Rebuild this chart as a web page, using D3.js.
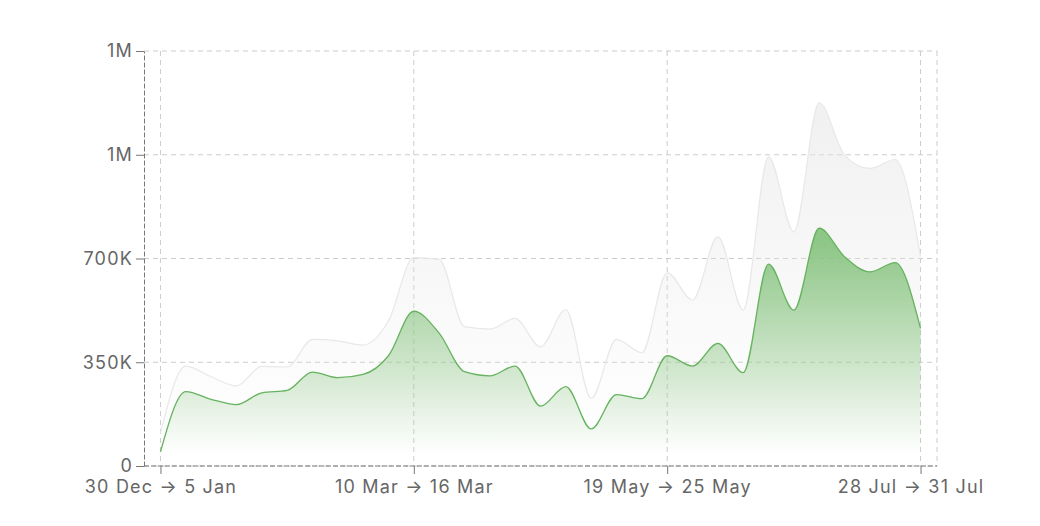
<!DOCTYPE html>
<html>
<head>
<meta charset="utf-8">
<script src="https://cdnjs.cloudflare.com/ajax/libs/d3/7.8.5/d3.min.js"></script>
<style>
  body { margin: 0; background: #fff; }
  svg text { font-family: Inter, "Noto Sans", sans-serif; }
</style>
</head>
<body>
<svg id="chart"></svg>
<script>
const svgWidth = 1040;
const svgHeight = 526;
const margin = {top: 51, right: 103, bottom: 60, left: 144};

// weekly buckets
const weeks = [
  "30 Dec → 5 Jan", "6 Jan → 12 Jan", "13 Jan → 19 Jan", "20 Jan → 26 Jan", "27 Jan → 2 Feb",
  "3 Feb → 9 Feb", "10 Feb → 16 Feb", "17 Feb → 23 Feb", "24 Feb → 2 Mar", "3 Mar → 9 Mar",
  "10 Mar → 16 Mar", "17 Mar → 23 Mar", "24 Mar → 30 Mar", "31 Mar → 6 Apr", "7 Apr → 13 Apr",
  "14 Apr → 20 Apr", "21 Apr → 27 Apr", "28 Apr → 4 May", "5 May → 11 May", "12 May → 18 May",
  "19 May → 25 May", "26 May → 1 Jun", "2 Jun → 8 Jun", "9 Jun → 15 Jun", "16 Jun → 22 Jun",
  "23 Jun → 29 Jun", "30 Jun → 6 Jul", "7 Jul → 13 Jul", "14 Jul → 20 Jul", "21 Jul → 27 Jul",
  "28 Jul → 31 Jul"
];
const totalValues = [
  111000, 337000, 301000, 270000, 336000, 334000, 427000, 422000, 408000, 490000,
  703000, 697000, 470000, 462000, 498000, 402000, 528000, 228000, 427000, 382000,
  652000, 560000, 774000, 526000, 1043000, 790000, 1225000, 1049000, 1004000, 1034000,
  706000
];
const greenValues = [
  48000, 251000, 225000, 207000, 247000, 255000, 317000, 298000, 309000, 372000,
  522000, 448000, 318000, 304000, 337000, 202000, 268000, 125000, 241000, 227000,
  372000, 337000, 414000, 315000, 681000, 526000, 802000, 706000, 655000, 686000,
  464000
];
const yTicks = [0, 350000, 700000, 1050000, 1400000];
const yTickLabels = ["0", "350K", "700K", "1M", "1M"];
const xTickIndex = [0, 10, 20, 30];

const svg = d3.select("#chart")
  .attr("width", svgWidth)
  .attr("height", svgHeight);

const defs = svg.append("defs");
const gGreen = defs.append("linearGradient").attr("id", "greenFill")
  .attr("x1", 0).attr("y1", 0).attr("x2", 0).attr("y2", 1);
gGreen.append("stop").attr("offset", "5%").attr("stop-color", "#82c17a").attr("stop-opacity", 0.9);
gGreen.append("stop").attr("offset", "95%").attr("stop-color", "#82c17a").attr("stop-opacity", 0);
const gGrey = defs.append("linearGradient").attr("id", "greyFill")
  .attr("x1", 0).attr("y1", 0).attr("x2", 0).attr("y2", 1);
gGrey.append("stop").attr("offset", "5%").attr("stop-color", "#e6e6e6").attr("stop-opacity", 0.55);
gGrey.append("stop").attr("offset", "95%").attr("stop-color", "#e6e6e6").attr("stop-opacity", 0);

const xScale = d3.scalePoint()
  .domain(weeks)
  .range([margin.left, svgWidth - margin.right])
  .padding(0.65);
const yScale = d3.scaleLinear()
  .domain([0, 1400000])
  .range([svgHeight - margin.bottom, margin.top]);

// grid
const grid = svg.append("g").attr("stroke", "#cccccc").attr("stroke-dasharray", "5 4");
grid.selectAll(".hg").data(yTicks).enter().append("line")
  .attr("x1", margin.left).attr("x2", svgWidth - margin.right)
  .attr("y1", d => yScale(d)).attr("y2", d => yScale(d));
grid.selectAll(".vg").data(xTickIndex).enter().append("line")
  .attr("x1", d => xScale(weeks[d])).attr("x2", d => xScale(weeks[d]))
  .attr("y1", margin.top).attr("y2", svgHeight - margin.bottom);
grid.append("line")
  .attr("x1", svgWidth - margin.right).attr("x2", svgWidth - margin.right)
  .attr("y1", margin.top).attr("y2", svgHeight - margin.bottom);

// areas
const area = vals => d3.area()
  .x((d, i) => xScale(weeks[i]))
  .y0(yScale(0))
  .y1(d => yScale(d))
  .curve(d3.curveMonotoneX)(vals);
const line = vals => d3.line()
  .x((d, i) => xScale(weeks[i]))
  .y(d => yScale(d))
  .curve(d3.curveMonotoneX)(vals);

svg.append("path").attr("d", area(totalValues)).attr("fill", "url(#greyFill)");
svg.append("path").attr("d", line(totalValues)).attr("fill", "none")
  .attr("stroke", "#e8e8e8").attr("stroke-width", 1.2);
svg.append("path").attr("d", area(greenValues)).attr("fill", "url(#greenFill)");
svg.append("path").attr("d", line(greenValues)).attr("fill", "none")
  .attr("stroke", "#66b35f").attr("stroke-width", 1.3);

// axes
const xAxis = d3.axisBottom(xScale)
  .tickValues(xTickIndex.map(i => weeks[i]))
  .tickSize(8)
  .tickSizeOuter(0)
  .tickPadding(6.5);
const yAxis = d3.axisLeft(yScale)
  .tickValues(yTicks)
  .tickFormat((d, i) => yTickLabels[i])
  .tickSize(8)
  .tickSizeOuter(0)
  .tickPadding(3);

const gx = svg.append("g")
  .attr("transform", `translate(0, ${svgHeight - margin.bottom})`)
  .call(xAxis);
const gy = svg.append("g")
  .attr("transform", `translate(${margin.left}, 0)`)
  .call(yAxis);

[gx, gy].forEach(g => {
  g.select(".domain").attr("stroke", "#777").attr("stroke-dasharray", "5 2");
  g.selectAll(".tick line").attr("stroke", "#777");
  g.selectAll(".tick text").attr("fill", "#666").attr("font-size", 18)
    .attr("letter-spacing", "1.2px")
    .attr("font-family", "Inter, 'Noto Sans', sans-serif");
});
gx.select(".domain").attr("d", `M${margin.left},0H${svgWidth - margin.right}`);
// last label is nudged left so it stays inside the frame
gx.selectAll(".tick text").filter((d, i, n) => i === n.length - 1).attr("x", -10);
</script>
</body>
</html>
